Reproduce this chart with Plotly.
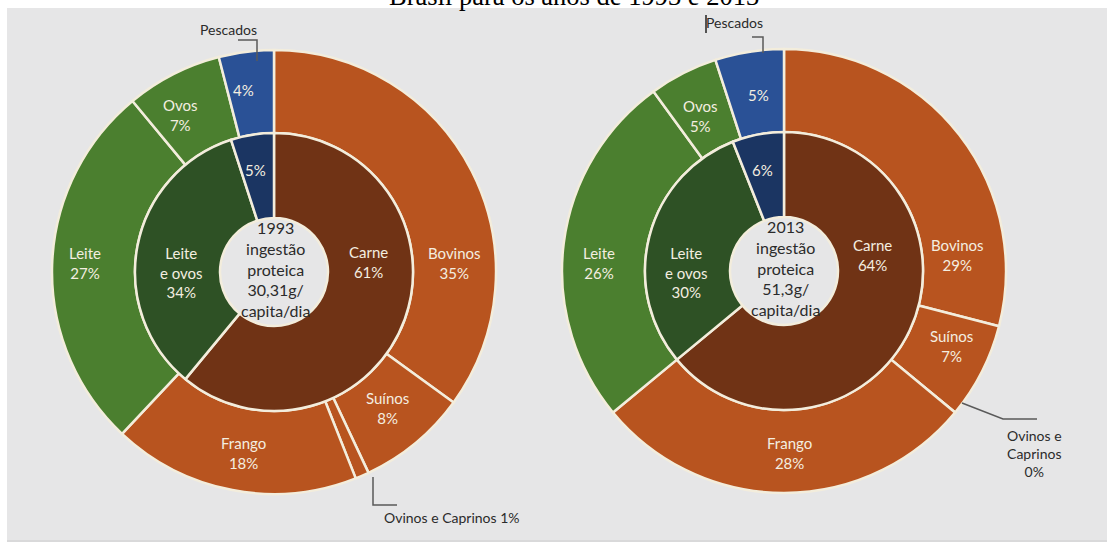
import plotly.graph_objects as go

W, H = 1107, 546

# ---- data -------------------------------------------------------------
title = "Brasil para os anos de 1993 e 2013"
years = ["1993", "2013"]
intake = ["30,31g/", "51,3g/"]

outer_labels = ["Bovinos", "Suínos", "Ovinos e Caprinos", "Frango", "Leite", "Ovos", "Pescados"]
outer_1993 = [35, 8, 1, 18, 27, 7, 4]
outer_2013 = [29, 7, 0, 28, 26, 5, 5]

inner_labels = ["Carne", "Leite e ovos", "Pescados"]
inner_1993 = [61, 34, 5]
inner_2013 = [64, 30, 6]

# ---- style ------------------------------------------------------------
outer_colors = ["#b8541f", "#b8541f", "#b8541f", "#b8541f", "#4b7f2f", "#4b7f2f", "#2a5196"]
inner_colors = ["#703315", "#2e5125", "#1b3562"]
edge = "#f3eddc"
label_color = "#f4eee0"
dark_text = "#2b2b2b"
panel = "#e6e6e7"
FONT = "Lato"

R_OUT, R_MID, R_HOLE = 222, 139, 54
centers = [(274, 272), (784, 271)]

# label anchor points (pixels from the top-left corner of the figure)
label_pos = [
    {"Bovinos": (454, 263), "Suínos": (387, 408), "Frango": (243, 453),
     "Leite": (85, 263), "Ovos": (180, 115), "Pescados": (244, 90),
     "Carne": (368, 262), "Leite e ovos": (181, 272), "Pescados_in": (255, 170)},
    {"Bovinos": (957, 255), "Suínos": (951, 346), "Frango": (789, 453),
     "Leite": (599, 263), "Ovos": (700, 116), "Pescados": (758, 95),
     "Carne": (872, 255), "Leite e ovos": (686, 272), "Pescados_in": (762, 170)},
]


def px(x, y):
    return x / W, 1 - y / H


def domain(cx, cy, r):
    return dict(x=[(cx - r) / W, (cx + r) / W], y=[1 - (cy + r) / H, 1 - (cy - r) / H])


def note(x, y, text, size, color, family=FONT):
    xx, yy = px(x, y)
    return dict(x=xx, y=yy, xref="paper", yref="paper", xanchor="center", yanchor="middle",
                text=text, showarrow=False, font=dict(family=family, size=size, color=color))


fig = go.Figure()
annotations = []
shapes = [
    dict(type="rect", xref="paper", yref="paper", x0=7 / W, x1=1, y0=1 - 542 / H, y1=1 - 8 / H,
         fillcolor=panel, line=dict(width=0), layer="below"),
    dict(type="line", xref="paper", yref="paper", x0=7 / W, x1=1, y0=1 - 541 / H, y1=1 - 541 / H,
         line=dict(color="#d9d9da", width=2), layer="below"),
]

for i, (outer_vals, inner_vals) in enumerate([(outer_1993, inner_1993), (outer_2013, inner_2013)]):
    cx, cy = centers[i]
    fig.add_trace(go.Pie(
        labels=outer_labels, values=outer_vals, sort=False, direction="clockwise", rotation=0,
        hole=R_MID / R_OUT, domain=domain(cx, cy, R_OUT), textinfo="none", hoverinfo="skip",
        marker=dict(colors=outer_colors, line=dict(color=edge, width=2.5)), showlegend=False,
    ))
    fig.add_trace(go.Pie(
        labels=inner_labels, values=inner_vals, sort=False, direction="clockwise", rotation=0,
        hole=R_HOLE / R_MID, domain=domain(cx, cy, R_MID), textinfo="none", hoverinfo="skip",
        marker=dict(colors=inner_colors, line=dict(color=edge, width=2.5)), showlegend=False,
    ))

    pos = label_pos[i]
    for lab, v in zip(outer_labels, outer_vals):
        if lab == "Ovinos e Caprinos":
            continue
        text = f"{v}%" if lab == "Pescados" else f"{lab}<br>{v}%"
        annotations.append(note(*pos[lab], text, 15, label_color))
    for lab, v in zip(inner_labels, inner_vals):
        if lab == "Pescados":
            text, key = f"{v}%", "Pescados_in"
        elif lab == "Leite e ovos":
            text, key = f"Leite<br>e ovos<br>{v}%", lab
        else:
            text, key = f"{lab}<br>{v}%", lab
        annotations.append(note(*pos[key], text, 15, label_color))

    annotations.append(note(cx + 1, cy - 3,
                            f"{years[i]}<br>ingestão<br>proteica<br>{intake[i]}<br>capita/dia",
                            16, dark_text))

# ---- callouts ---------------------------------------------------------
def path(points):
    d = "M " + " L ".join(f"{x / W},{1 - y / H}" for x, y in points)
    return dict(type="path", xref="paper", yref="paper", path=d, line=dict(color="#5a5a5a", width=1.5))


shapes += [
    path([(238, 40), (257, 40), (257, 61)]),
    path([(752, 37), (763, 37), (763, 53)]),
    path([(373, 477), (373, 505), (397, 505)]),
    path([(962, 403), (1003, 419), (1037, 419)]),
    dict(type="line", xref="paper", yref="paper", x0=706 / W, x1=706 / W, y0=1 - 15 / H, y1=1 - 33 / H,
         line=dict(color="#222222", width=1.5)),
]

annotations += [
    note(228, 29, outer_labels[6], 14, dark_text),
    note(734, 23, outer_labels[6], 14, dark_text),
    note(452, 517, f"{outer_labels[2]} {outer_1993[2]}%", 14, dark_text),
    note(1034, 453, f"Ovinos e<br>Caprinos<br>{outer_2013[2]}%", 14, dark_text),
]

# title, partly above the top edge
annotations.append(note(574, -4, title, 26.5, "#000000", family="Liberation Serif"))

fig.update_layout(
    width=W, height=H, margin=dict(l=0, r=0, t=0, b=0),
    paper_bgcolor="white", plot_bgcolor="white",
    annotations=annotations, shapes=shapes,
)

fig.write_html("out.html")
